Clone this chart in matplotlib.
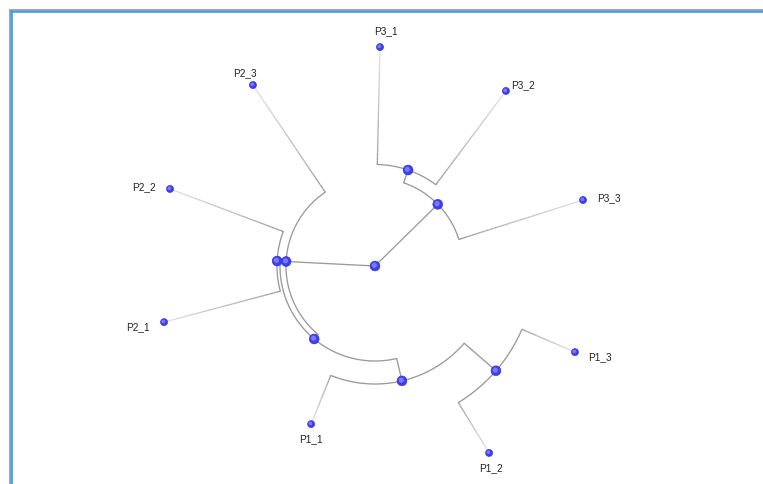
import numpy as np
import matplotlib.pyplot as plt
from matplotlib.collections import LineCollection
from matplotlib.lines import Line2D

OUTFILE = "out.png"

# ---------------- tree data (angle in degrees, radius = branch depth) ----------------
node_names = ["root", "A", "N6", "P3_1", "P3_2", "P3_3",
              "B", "P2_3", "N3", "N1", "P2_2", "P2_1",
              "N4", "P1_1", "N5", "P1_2", "P1_3"]
node_parent = [None, "root", "A", "N6", "N6", "A",
               "root", "B", "B", "N3", "N1", "N1",
               "N3", "N4", "N4", "N5", "N5"]
node_angle = [0.0, 44.5, 71.0, 88.7, 53.2, 17.6,
              177.1, 124.0, 230.2, 177.1, 159.4, 194.9,
              283.2, 248.0, 319.1, 301.4, 336.7]
node_radius = [0.0, 88.0, 101.5, 219.0, 218.6, 218.2,
               89.0, 218.3, 95.0, 98.0, 219.0, 218.3,
               118.0, 170.5, 160.0, 219.0, 217.7]
leaf_names = ["P3_1", "P3_2", "P3_3", "P2_3", "P2_2", "P2_1", "P1_1", "P1_2", "P1_3"]

# label offsets in pixels (layout only)
label_offset = {
    "P3_1": (6, 16), "P3_2": (17, 6), "P3_3": (26, 2),
    "P2_3": (-8, 12), "P2_2": (-26, 2), "P2_1": (-26, -5),
    "P1_1": (0, -15), "P1_2": (2, -15), "P1_3": (25, -5),
}

EDGE_COLOR = "#9a9a9a"
LEAF_FADE = "#e2e2e2"
LW = 0.95


def polar_xy(theta_deg, r):
    t = np.deg2rad(theta_deg)
    return r * np.cos(t), r * np.sin(t)


def main():
    W, H = 763, 484
    cx, cy = 375, 266  # pixel position of the root (from top-left)

    fig = plt.figure(figsize=(W / 100, H / 100), dpi=100)
    ax = fig.add_axes([0, 0, 1, 1])
    ax.set_xlim(-cx, W - cx)
    ax.set_ylim(-(H - cy), cy)
    ax.axis("off")

    idx = {n: i for i, n in enumerate(node_names)}

    internal_segs = []
    leaf_segs, leaf_cols = [], []
    c0 = np.array(plt.matplotlib.colors.to_rgb(EDGE_COLOR))
    c1 = np.array(plt.matplotlib.colors.to_rgb(LEAF_FADE))

    for i, name in enumerate(node_names):
        p = node_parent[i]
        if p is None:
            continue
        j = idx[p]
        rp, ap = node_radius[j], node_angle[j]
        rc, ac = node_radius[i], node_angle[i]
        # arc at parent radius
        if rp > 0:
            th = np.linspace(ap, ac, 60)
            x, y = polar_xy(th, rp)
            internal_segs.append(np.column_stack([x, y]))
        # radial branch
        if name in leaf_names:
            rr = np.linspace(rp, rc, 30)
            x, y = polar_xy(np.full_like(rr, ac), rr)
            pts = np.column_stack([x, y])
            n = len(pts) - 1
            for k in range(n):
                leaf_segs.append(pts[k:k + 2])
                f = (k / n) ** 0.8
                leaf_cols.append(tuple(c0 * (1 - f) + c1 * f))
        else:
            x, y = polar_xy(np.array([ac, ac]), np.array([rp, rc]))
            internal_segs.append(np.column_stack([x, y]))

    ax.add_collection(LineCollection(internal_segs, colors=EDGE_COLOR, linewidths=LW,
                                     capstyle="round", joinstyle="round", zorder=1))
    ax.add_collection(LineCollection(leaf_segs, colors=leaf_cols, linewidths=LW,
                                     capstyle="butt", zorder=1))

    # nodes as shaded blue balls
    ang = np.array(node_angle)
    rad = np.array(node_radius)
    nx, ny = polar_xy(ang, rad)
    is_leaf = np.array([n in leaf_names for n in node_names])
    sizes = np.where(is_leaf, 26, 50)
    hl = np.where(is_leaf, 7, 14)
    ax.scatter(nx, ny, s=sizes, color="#3f3ff2", edgecolors="#2b2bc8", linewidths=0.4, zorder=3)
    ax.scatter(nx - 0.7, ny + 0.7, s=hl, color="#7a7aff", edgecolors="none", zorder=4)

    # leaf labels
    for name in leaf_names:
        i = idx[name]
        lx, ly = polar_xy(node_angle[i], node_radius[i])
        dx, dy = label_offset[name]
        ax.annotate(name, (lx, ly), xytext=(dx, dy), textcoords="offset pixels",
                    ha="center", va="center", fontsize=7.2, color="#222222",
                    family=["Liberation Sans", "DejaVu Sans"])

    # window frame (blue with grey outer edge) on left and top
    def px_x(v):
        return v / W

    def px_y(v):
        return 1 - v / H

    fig.add_artist(Line2D([px_x(8.8), px_x(8.8)], [0, px_y(9.0)], color="#a8a8a8", lw=0.8))
    fig.add_artist(Line2D([px_x(8.8), 1], [px_y(9.0), px_y(9.0)], color="#a8a8a8", lw=0.8))
    fig.add_artist(Line2D([px_x(10.5), px_x(10.5)], [0, px_y(10.5)], color="#5b9bd5", lw=2.0))
    fig.add_artist(Line2D([px_x(10.5), 1], [px_y(10.8), px_y(10.8)], color="#5b9bd5", lw=2.0))

    fig.savefig(OUTFILE, dpi=100, facecolor="white")


if __name__ == "__main__":
    main()
